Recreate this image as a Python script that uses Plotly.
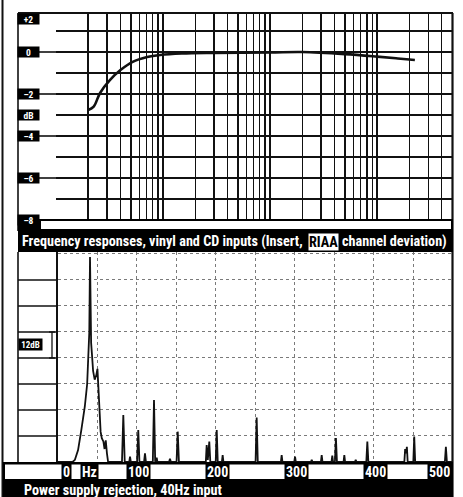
import plotly.graph_objects as go

W, H = 463, 497

# ---------------- data ----------------
# Top panel: RIAA channel deviation (dB) vs frequency (Hz)
riaa_hz = [20, 22.5, 25.8, 32, 40, 52, 71, 94, 150, 300, 1000, 2000, 5000, 10000, 15000, 20000, 22500]
riaa_db = [-2.76, -2.6, -1.95, -1.33, -0.86, -0.47, -0.24, -0.14, -0.07, -0.04, -0.02, 0.0, -0.1, -0.22, -0.3, -0.36, -0.38]

# Top panel axis labels
top_x_text = ["10", "20", "Hz", "50", "100", "500", "1k", "5k", "10k", "20k", "50k"]
top_x_hz = [10, 20, 32, 50, 100, 500, 1000, 5000, 10000, 20000, 50000]
top_y_text = ["+2", "0", "\u20132", "dB", "\u20134", "\u20136", "\u20138"]
top_y_db = [1.57, 0, -2, -3, -4, -6, -8]
top_major_db = [0, -2, -4, -6]

# Bottom panel: power supply rejection spectrum, 40Hz input
spec_hz = [
    0, 19, 22, 26, 30, 34.5, 37.5, 39, 40.2, 41.1, 41.8, 42.5, 43.5, 45, 47, 49, 50.5, 51.5, 53, 54.5, 56, 58, 59.5, 61, 62.5, 64,
    81.5, 83.2, 85,
    90.7, 91.7, 92.7,
    100.6, 102.1, 103.6,
    109.4, 110.6, 111.8,
    120.5, 122, 123.5, 124.5, 125.4, 126.3,
    141, 142.2, 143.4,
    150.5, 152, 153.5,
    187.5, 188.6, 190, 191.9, 193.2,
    200, 201.3, 202.6, 207.8, 208.8, 209.8,
    250.4, 251.8, 253.2,
    282.4, 283.4, 284.4,
    299.3, 300.3, 301.3,
    320.4, 321.4, 322.4,
    333, 334, 335,
    346.4, 347.4, 348.4, 350.7, 352, 353.3,
    361.6, 362.6, 363.6,
    376, 377, 378,
    390.4, 391.7, 393,
    438.5, 439.5, 440.6, 441.7, 442.7,
    449.8, 451, 452.2,
    489.7, 491, 492.3,
    500]
spec_db = [
    0, 0, 1, 5.5, 14.5, 25.5, 36, 46, 60, 94.6, 62, 55, 50, 42, 38, 40, 43, 37, 26, 14, 11, 9.5, 6, 10, 4, 0,
    0, 21.7, 0,
    0, 2.5, 0,
    0, 14.8, 0,
    0, 4, 0,
    0, 28.6, 0, 0, 2, 0,
    0, 1.5, 0,
    0, 14, 0,
    0, 7.8, 1, 9.4, 0,
    0, 14.8, 0, 0, 3.2, 0,
    0, 20.5, 0,
    0, 3.2, 0,
    0, 2.5, 0,
    0, 1, 0,
    0, 3.2, 0,
    0, 3, 0, 0, 11, 0,
    0, 3.2, 0,
    0, 1, 0,
    0, 9.4, 0,
    0, 6, 4, 7, 0,
    0, 11.7, 0,
    0, 7, 0,
    0]
assert len(spec_hz) == len(spec_db)

bot_x_text = ["0", "Hz", "100", "200", "300", "400", "500"]
bot_x_hz = [0, 38.5, 100, 200, 300, 400, 500]
bot_grid_db = [12, 24, 36, 48, 60, 72, 84]

top_caption_a = "Frequency responses, vinyl and CD inputs (Insert,"
top_caption_b = "RIAA"
top_caption_c = "channel deviation)"
bot_caption = "Power supply rejection, 40Hz input"

FONT = "Roboto Condensed, Roboto, Lato, sans-serif"
INK = "#111111"

def px(x):
    return x / W

def py(y):
    return 1 - y / H

# vertical grid of the log axis (decoration)
grid_hz = [m * 10 ** e for e in range(1, 4) for m in range(1, 10)] + [m * 10 ** 4 for m in range(1, 6)]

fig = go.Figure()
fig.add_trace(go.Scatter(x=riaa_hz, y=riaa_db, mode="lines",
                         line=dict(color=INK, width=2.6, shape="spline"),
                         xaxis="x", yaxis="y", showlegend=False, hoverinfo="skip"))
fig.add_trace(go.Scatter(x=spec_hz, y=spec_db, mode="lines",
                         line=dict(color=INK, width=1.8),
                         xaxis="x2", yaxis="y2", showlegend=False, hoverinfo="skip"))

shapes = []
def line(x0, y0, x1, y1, w=1.5, xref="paper", yref="paper", color=INK):
    shapes.append(dict(type="line", x0=x0, y0=y0, x1=x1, y1=y1, xref=xref, yref=yref,
                       line=dict(color=color, width=w)))

def rect(x0, y0, x1, y1, fill):
    shapes.append(dict(type="rect", x0=px(x0), x1=px(x1), y0=py(y1), y1=py(y0),
                       xref="paper", yref="paper", fillcolor=fill, line=dict(width=0)))

# outer page borders
line(px(2.5), py(0), px(2.5), py(497), w=2)
line(px(452.5), py(13), px(452.5), py(497), w=2.2)
# top frame
line(px(18), py(13), px(453), py(13), w=2)
line(px(18), py(13), px(18), py(231), w=1.6)
line(px(18), py(252), px(18), py(462), w=1.6)
# major-line extensions into the label column (top)
for v in top_major_db:
    line(px(38), v, px(56), v, w=1.6, yref="y")
# left column solid lines (bottom)
for v in bot_grid_db:
    line(px(18), v, px(57.5), v, w=1.5, yref="y2")
# top label bar + caption band
rect(18, 219, 453, 231, "black")
rect(41, 221, 451, 229, "white")
rect(18, 230, 453, 252, "black")
# bottom label bar + caption band
rect(3, 462, 453, 481, "black")
rect(5, 464.5, 451, 479, "white")
rect(3, 481, 453, 497, "black")
# 12 dB bracket
line(px(52), 48, px(52), 60, w=1.3, yref="y2")
line(px(49), 48, px(55), 48, w=1.3, yref="y2")
line(px(49), 60, px(55), 60, w=1.3, yref="y2")

ann = []
# top y labels
for t, v in zip(top_y_text, top_y_db):
    ann.append(dict(text=t, x=px(28.5), y=v, xref="paper", yref="y", showarrow=False,
                    xanchor="center", yanchor="middle", width=19, height=8, borderpad=1,
                    bgcolor="black", font=dict(family=FONT, size=9.5, color="white", weight="bold")))
# top x labels
for t, v in zip(top_x_text, top_x_hz):
    last = (v == top_x_hz[-1])
    ann.append(dict(text=t, x=v, y=py(225), xref="x", yref="paper", showarrow=False,
                    xanchor="right" if last else "center", yanchor="middle",
                    xshift=0 if last else 2, borderpad=1, height=8,
                    bgcolor="black", font=dict(family=FONT, size=9.5, color="white", weight="bold")))
# bottom x labels
for t, v in zip(bot_x_text, bot_x_hz):
    if v == bot_x_hz[0]:
        xa, xs = "left", 3
    elif v == bot_x_hz[-1]:
        xa, xs = "right", -1
    else:
        xa, xs = "center", 2
    ann.append(dict(text=t, x=v, y=py(471.7), xref="x2", yref="paper", showarrow=False,
                    xanchor=xa, yanchor="middle", xshift=xs, borderpad=1, height=13,
                    bgcolor="black", font=dict(family=FONT, size=14, color="white", weight="bold")))
# 12dB label
ann.append(dict(text="12dB", x=px(30.5), y=54, xref="paper", yref="y2", showarrow=False,
                xanchor="center", yanchor="middle", width=21, height=9, borderpad=1,
                bgcolor="black", font=dict(family=FONT, size=9, color="white", weight="bold")))
# captions
CAP = 14.2
ann.append(dict(text=top_caption_a, x=px(305), y=py(241.5), xref="paper", yref="paper",
                showarrow=False, xanchor="right", yanchor="middle",
                font=dict(family=FONT, size=CAP, color="white", weight="bold")))
ann.append(dict(text=top_caption_b, x=px(307.5), y=py(241.5), xref="paper", yref="paper",
                showarrow=False, xanchor="left", yanchor="middle", bgcolor="white", borderpad=0,
                font=dict(family=FONT, size=CAP, color="black", weight="bold")))
ann.append(dict(text=top_caption_c, x=px(340), y=py(241.5), xref="paper", yref="paper",
                showarrow=False, xanchor="left", yanchor="middle",
                font=dict(family=FONT, size=CAP, color="white", weight="bold")))
ann.append(dict(text=bot_caption, x=px(22), y=py(489.5), xref="paper", yref="paper",
                showarrow=False, xanchor="left", yanchor="middle",
                font=dict(family=FONT, size=CAP, color="white", weight="bold")))

fig.update_layout(
    width=W, height=H, margin=dict(l=0, r=0, t=0, b=0),
    paper_bgcolor="white", plot_bgcolor="white", showlegend=False,
    xaxis=dict(type="log", range=[1, 4.69897], domain=[px(56), px(452)], anchor="y",
               tickvals=grid_hz, showticklabels=False, ticks="",
               showgrid=True, gridcolor=INK, gridwidth=1.5, zeroline=False, showline=False),
    yaxis=dict(range=[-8, 1.857], domain=[py(220), py(13)], anchor="x",
               dtick=1, showticklabels=False, ticks="",
               showgrid=True, gridcolor=INK, gridwidth=1.5, zeroline=False, showline=False),
    xaxis2=dict(range=[0, 500], domain=[px(57.5), px(453)], anchor="y2",
                dtick=50, showticklabels=False, ticks="",
                showgrid=True, gridcolor="#7a7a7a", gridwidth=1, griddash="dot",
                zeroline=False, showline=True, linecolor=INK, linewidth=2),
    yaxis2=dict(range=[0, 96.9], domain=[py(462), py(252)], anchor="x2",
                dtick=12, showticklabels=False, ticks="",
                showgrid=True, gridcolor="#7a7a7a", gridwidth=1, griddash="dot",
                zeroline=False, showline=True, linecolor=INK, linewidth=1.8),
    shapes=shapes, annotations=ann,
)

fig.write_html("out.html", config={"displayModeBar": False, "staticPlot": True},
               post_script="document.body.style.margin='0';document.body.style.overflow='hidden';")
